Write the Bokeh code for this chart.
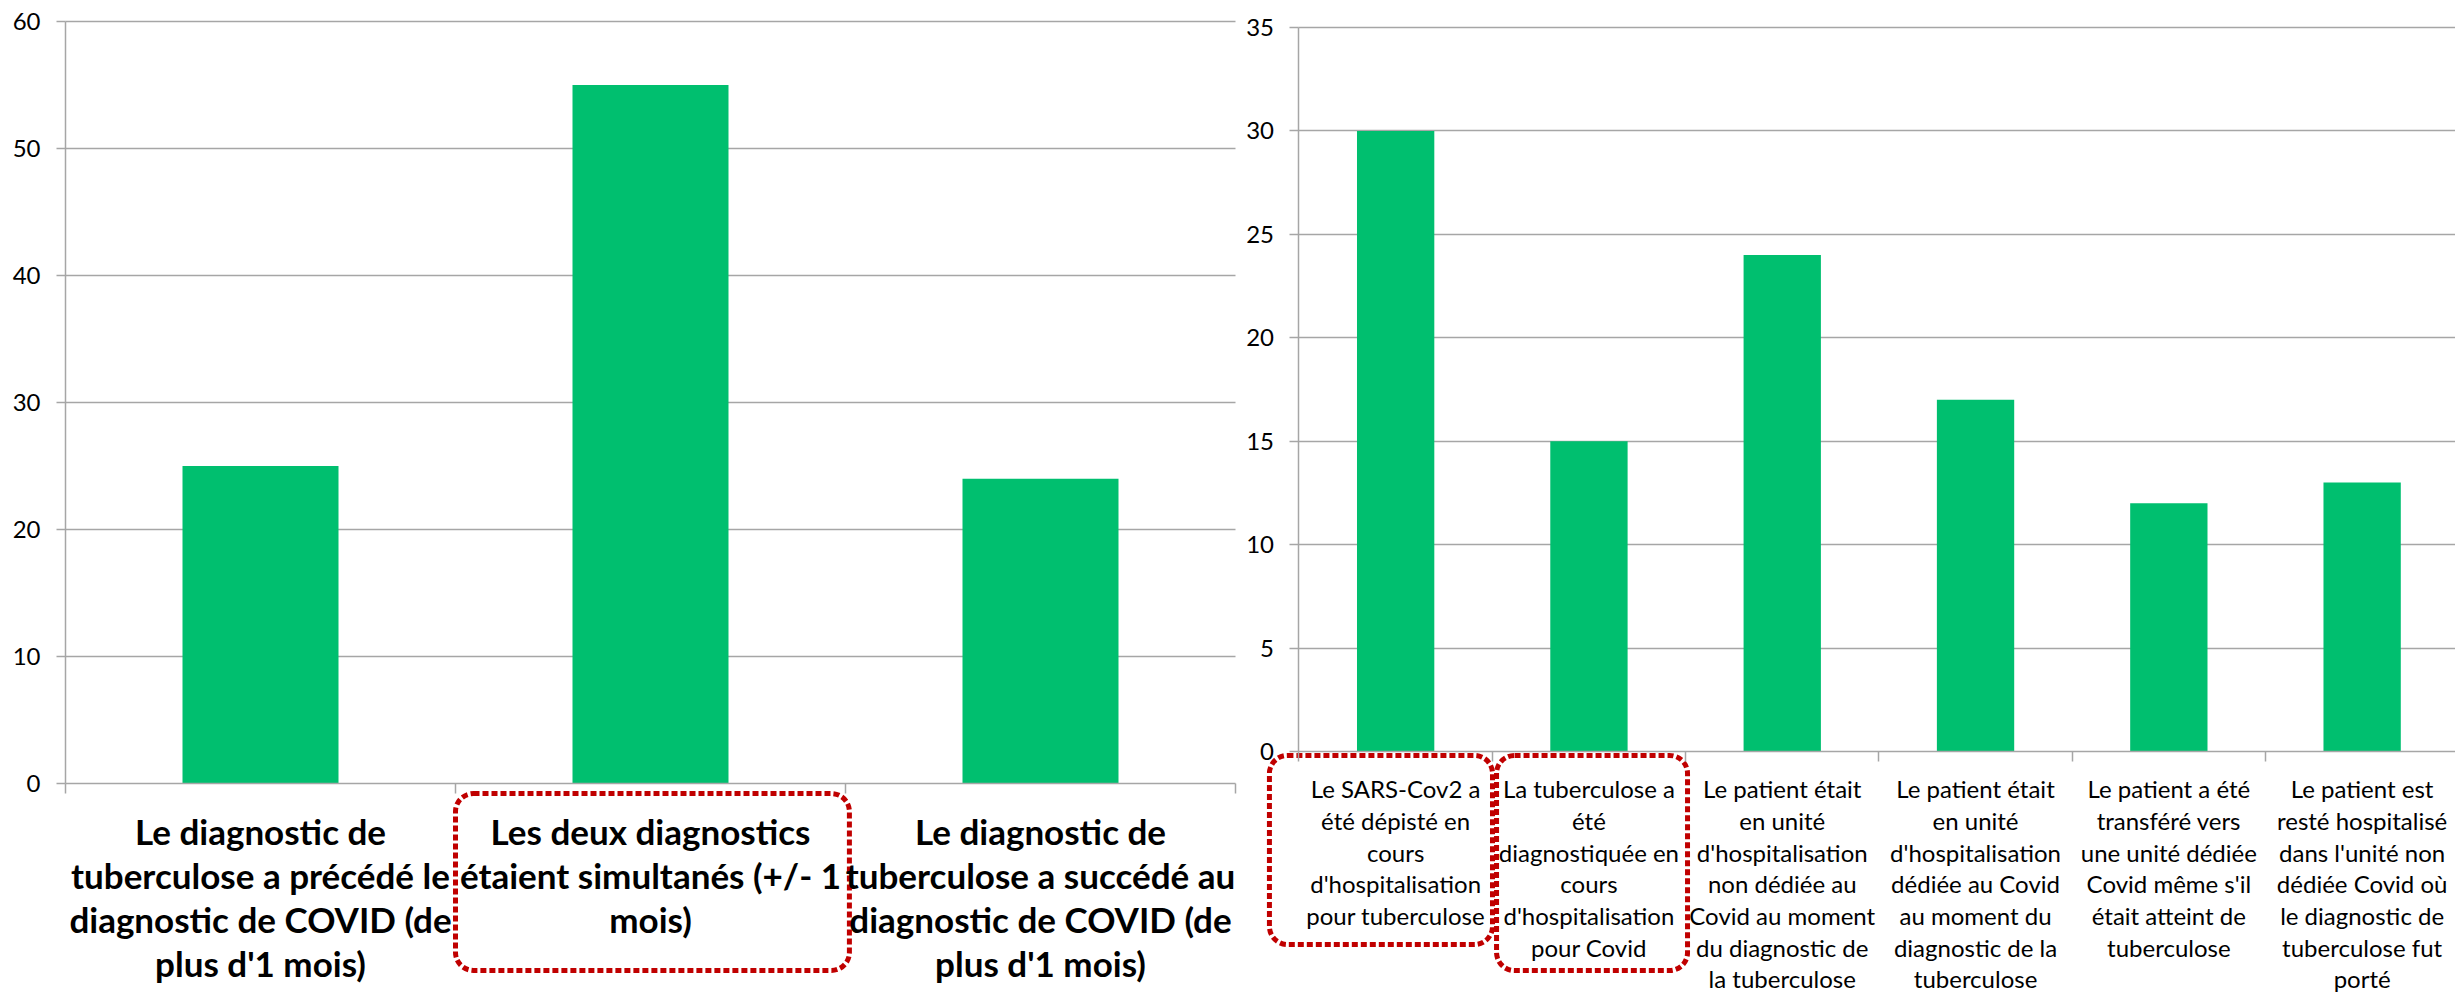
from bokeh.plotting import figure
from bokeh.layouts import row
from bokeh.models import LinearAxis, FixedTicker, Range1d, Grid, Quad
from bokeh.embed import file_html
from bokeh.resources import INLINE

# ---------------- data ----------------
left_labels = [
    "Le diagnostic de\ntuberculose a précédé le\ndiagnostic de COVID (de\nplus d'1 mois)",
    "Les deux diagnostics\nétaient simultanés (+/- 1\nmois)",
    "Le diagnostic de\ntuberculose a succédé au\ndiagnostic de COVID (de\nplus d'1 mois)",
]
left_values = [25, 55, 24]
left_ticks = [0, 10, 20, 30, 40, 50, 60]
left_highlight = [1]

right_labels = [
    "Le SARS-Cov2 a\nété dépisté en\ncours\nd'hospitalisation\npour tuberculose",
    "La tuberculose a\nété\ndiagnostiquée en\ncours\nd'hospitalisation\npour Covid",
    "Le patient était\nen unité\nd'hospitalisation\nnon dédiée au\nCovid au moment\ndu diagnostic de\nla tuberculose",
    "Le patient était\nen unité\nd'hospitalisation\ndédiée au Covid\nau moment du\ndiagnostic de la\ntuberculose",
    "Le patient a été\ntransféré vers\nune unité dédiée\nCovid même s'il\nétait atteint de\ntuberculose",
    "Le patient est\nresté hospitalisé\ndans l'unité non\ndédiée Covid où\nle diagnostic de\ntuberculose fut\nporté",
]
right_values = [30, 15, 24, 17, 12, 13]
right_ticks = [0, 5, 10, 15, 20, 25, 30, 35]
right_highlight = [0, 1]

# ---------------- style ----------------
GREEN = "#00BF6F"
GRID = "#A6A6A6"
RED = "#C00000"
FONT = "Lato"
HEIGHT = 993

HAS_CROSS = "cross_bounds" in Grid.properties()
HAS_RADIUS = "border_radius" in Quad.properties()


def build(labels, values, ticks, width, xr, yr, lab_size, lab_style, lab_lh, lab_standoff):
    n = len(values)
    p = figure(width=width, height=HEIGHT, x_range=Range1d(*xr), y_range=Range1d(*yr),
               x_axis_type=None, y_axis_type=None, toolbar_location=None,
               output_backend="svg", min_border=0, outline_line_color=None,
               background_fill_color="white", border_fill_color="white")
    centers = [i + 0.5 for i in range(n)]

    grid = Grid(dimension=1, ticker=FixedTicker(ticks=ticks[1:]),
                grid_line_color=GRID, grid_line_width=1.5, level="underlay")
    if HAS_CROSS:
        grid.cross_bounds = (0, n)
    p.add_layout(grid)

    p.vbar(x=centers, top=values, bottom=0, width=0.4, fill_color=GREEN, line_color=None)

    yaxis = LinearAxis(ticker=FixedTicker(ticks=ticks), fixed_location=0,
                       bounds=(ticks[0], ticks[-1]),
                       axis_line_color=GRID, axis_line_width=1.5,
                       major_tick_line_color=GRID, major_tick_line_width=1.5,
                       major_tick_out=9, major_tick_in=0,
                       minor_tick_line_color=None,
                       major_label_standoff=16,
                       major_label_text_font=FONT,
                       major_label_text_font_size="24px",
                       major_label_text_color="black")
    p.add_layout(yaxis, "left")

    xaxis = LinearAxis(ticker=FixedTicker(ticks=centers, minor_ticks=list(range(n + 1))),
                       fixed_location=0, bounds=(0, n),
                       axis_line_color=GRID, axis_line_width=1.5,
                       major_tick_line_color=None, major_tick_out=0, major_tick_in=0,
                       minor_tick_line_color=GRID, minor_tick_line_width=1.5,
                       minor_tick_out=10, minor_tick_in=0,
                       major_label_overrides={c: l for c, l in zip(centers, labels)},
                       major_label_standoff=lab_standoff,
                       major_label_text_font=FONT,
                       major_label_text_font_size=lab_size,
                       major_label_text_font_style=lab_style,
                       major_label_text_line_height=lab_lh,
                       major_label_text_color="black")
    p.add_layout(xaxis, "below")
    return p


# frames span the whole figures; data ranges place the axes where the original's are
left = build(left_labels, left_values, left_ticks, 1246,
             (-0.16667, 3.02821), (-16.535, 61.654),
             "35px", "bold", 1.05, 16)
right = build(right_labels, right_values, right_ticks, 1209,
              (-0.2716, 5.983), (-11.699, 36.305),
              "24px", "normal", 1.09, 13)

box_kw = dict(fill_color=None, line_color=RED, line_width=5, line_dash="6 3")
if HAS_RADIUS:
    box_kw["border_radius"] = 18

# highlight frames around chosen category labels (positions relative to category slots)
left.quad(left=[left_highlight[0] + 0.0], right=[left_highlight[0] + 1.01],
          top=[-0.79], bottom=[-14.72], **box_kw)
right.quad(left=[right_highlight[0] - 0.153, right_highlight[1] + 0.022],
           right=[right_highlight[0] + 1.001, right_highlight[1] + 1.01],
           top=[-0.19, -0.19], bottom=[-9.33, -10.59], **box_kw)

layout = row(left, right, spacing=0)
open("out.html", "w").write(file_html(layout, INLINE))
